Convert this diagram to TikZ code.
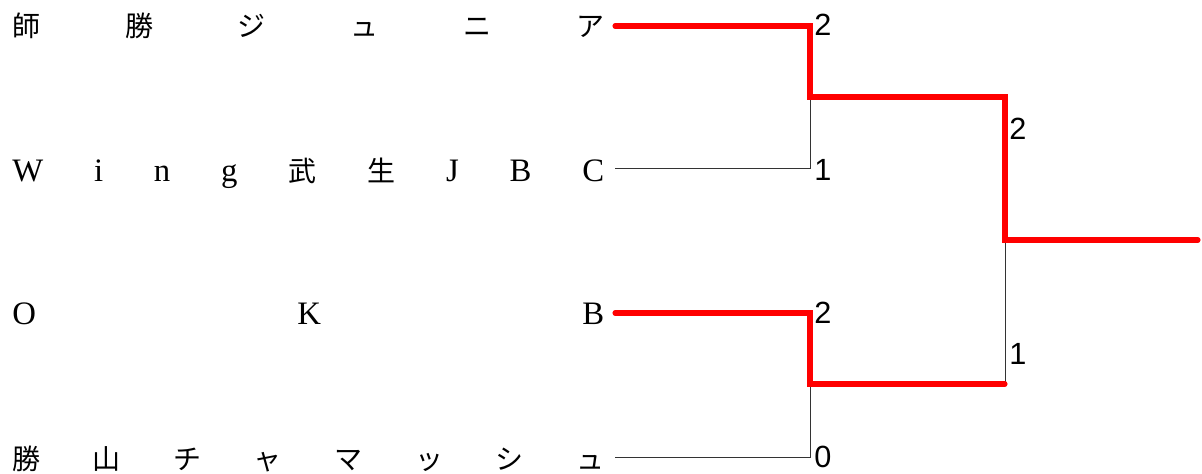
\documentclass[tikz,border=0pt]{standalone}
\usepackage{fontspec}
\setmainfont{Liberation Serif}[Scale=1.17]
\newfontfamily\jp{Noto Sans CJK JP}
\newfontfamily\scorefont{Liberation Sans}
\usepackage{tikz}
\usetikzlibrary{calc}

% spread the letters of a team name over the full name column
\newcommand{\spreadname}[1]{\hbox to 444pt{#1}}

\begin{document}
\begin{tikzpicture}[
    x=0.75pt, y=-0.75pt,
    team/.style={anchor=base west, inner sep=0pt, font=\fontsize{21}{24}\selectfont},
    score/.style={anchor=west, inner sep=0pt, font=\scorefont\fontsize{23}{26}\selectfont},
    lost/.style={draw=black!80, line width=0.75pt},
    won/.style={draw=red, line width=3.8pt, line cap=round, line join=miter}
]
\useasboundingbox (0,0) rectangle (1202,474);

% --- Team names ---
\node[team] (t1) at (12,37) {\spreadname{\jp 師\hfill 勝\hfill ジ\hfill ュ\hfill ニ\hfill ア}};
\node[team] (t2) at (12,181) {\spreadname{W\hfill i\hfill n\hfill g\hfill {\jp 武}\hfill {\jp 生}\hfill J\hfill B\hfill C}};
\node[team] (t3) at (12,324) {\spreadname{O\hfill K\hfill B}};
\node[team] (t4) at (12,469) {\spreadname{\jp 勝\hfill 山\hfill チ\hfill ャ\hfill マ\hfill ッ\hfill シ\hfill ュ}};

% Bracket points
\coordinate (a1) at (615,26);
\coordinate (a2) at (615,169);
\coordinate (a3) at (615,313);
\coordinate (a4) at (615,457);

\coordinate (m1) at (810,97);
\coordinate (m2) at (810,384);
\coordinate (s2) at (1005,384);
\coordinate (f) at (1005,240);
\coordinate (w) at (1198,240);

% --- Losing lines ---
\draw[lost] (a2) -| (m1);
\draw[lost] (a4) -| (m2);
\draw[lost] (s2) -- (f);

% --- Winning lines ---
\draw[won] (a1) -| (m1) -| (f) -- (w);
\draw[won] (a3) -| (m2) -- (s2);

% Scores
\node[score] (p1) at (814,25) {2};
\node[score] (p2) at (814,170) {1};
\node[score] (p3) at (814,313) {2};
\node[score] (p4) at (814,457) {0};
\node[score] (p5) at (1009,129) {2};
\node[score] (p6) at (1009,354) {1};

\end{tikzpicture}
\end{document}
